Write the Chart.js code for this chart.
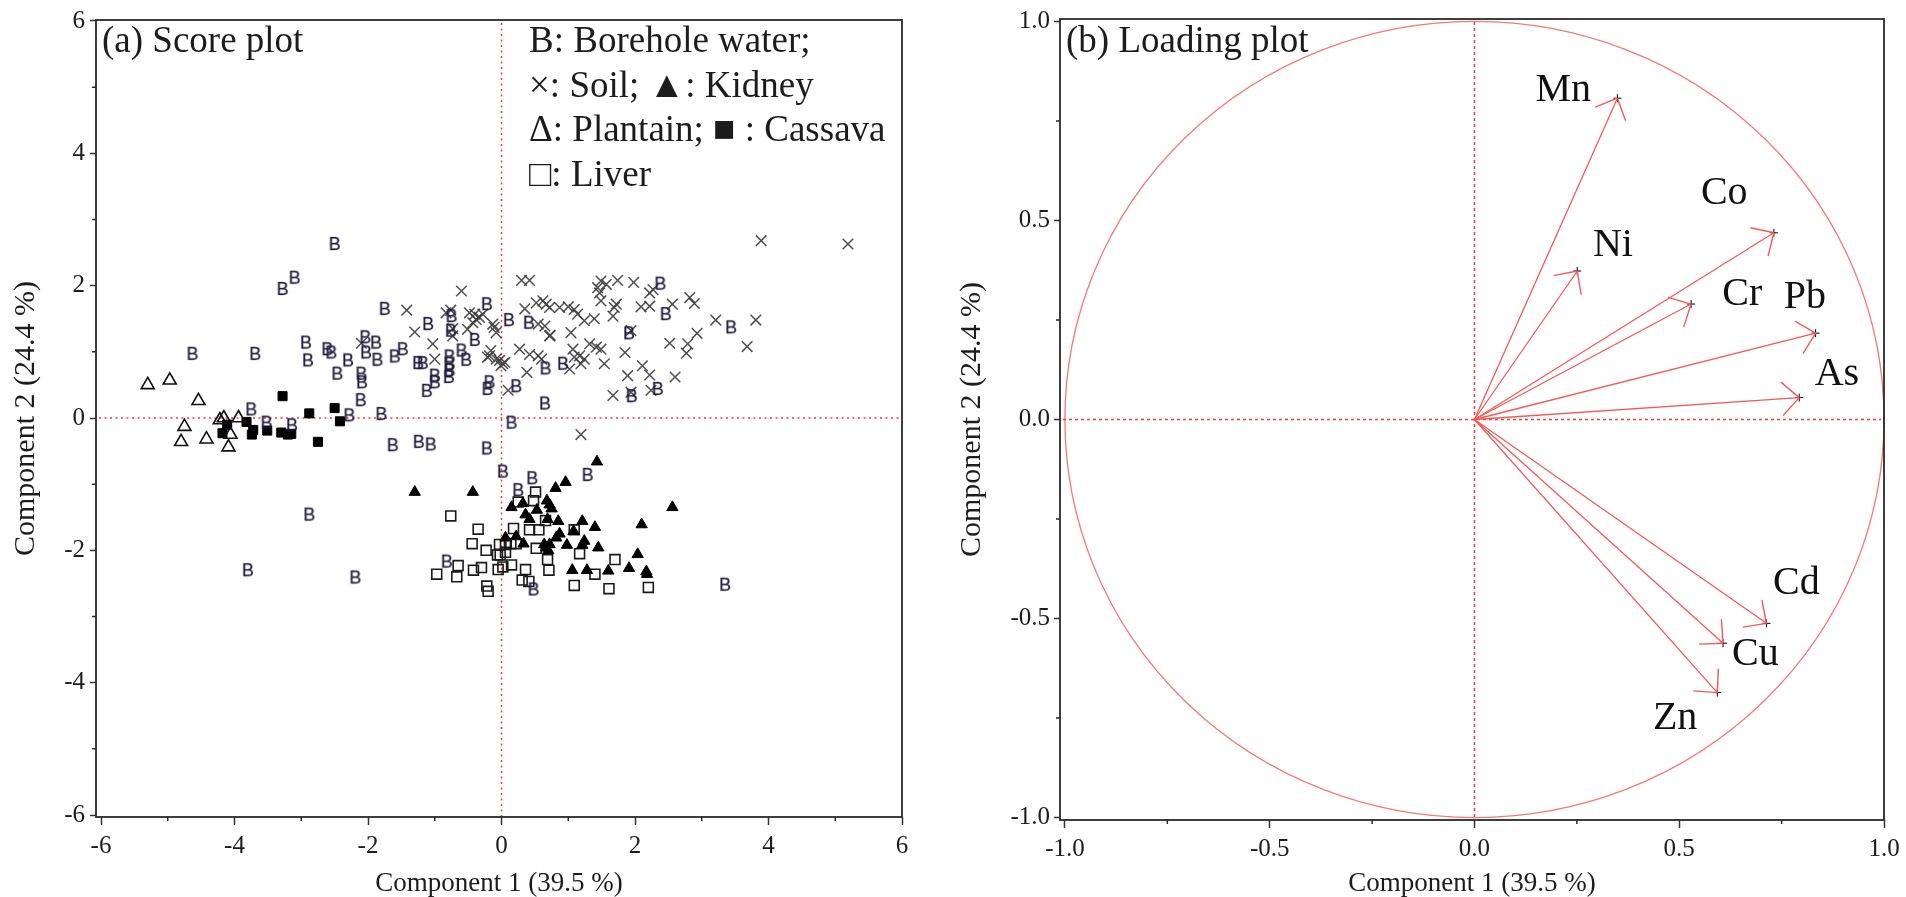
<!DOCTYPE html>
<html>
<head>
<meta charset="utf-8">
<script src="https://cdn.jsdelivr.net/npm/chart.js@4.4.0/dist/chart.umd.min.js"></script>
<style>
  html, body { margin: 0; padding: 0; background: #fff; }
  #wrap { position: relative; width: 1906px; height: 897px; overflow: hidden; }
  #score { position: absolute; left: 0; top: 0; }
  #loading { position: absolute; left: 940px; top: 0; }
</style>
</head>
<body>
<div id="wrap">
  <canvas id="score" width="940" height="897"></canvas>
  <canvas id="loading" width="966" height="897"></canvas>
</div>
<script>
// ---- score plot: [component 1, component 2] per sample ----
var borehole = [[-2.50,2.63],[-3.10,2.12],[-3.28,1.95],[-1.75,1.65],[-4.63,0.97],[-3.69,0.97],[-2.93,1.14],[-2.90,0.87],
  [-2.61,1.04],[-2.55,0.99],[-2.30,0.87],[-2.46,0.67],[-2.04,1.22],[-2.03,0.99],[-1.88,1.14],[-1.86,0.88],[-2.10,0.67],
  [-2.09,0.54],[-2.11,0.27],[-1.60,0.93],[-1.48,1.04],[-1.25,0.83],[-1.18,0.83],[-1.10,1.42],[-0.75,1.54],[-0.76,1.32],
  [-0.40,1.18],[-0.60,1.02],[-0.53,0.88],[-0.78,0.93],[-0.78,0.82],[-0.78,0.72],[-0.79,0.62],[-1.00,0.64],[-1.00,0.54],
  [-1.12,0.41],[-0.22,1.72],[-0.18,0.54],[-0.21,0.44],[-3.75,0.13],[-3.52,-0.07],[-3.14,-0.11],[-2.28,0.04],[-1.80,0.06],
  [-1.63,-0.41],[-1.24,-0.36],[-1.06,-0.40],[-0.22,-0.46],[0.11,1.48],[0.41,1.44],[0.22,0.48],[0.66,0.75],[0.65,0.22],
  [0.15,-0.07],[0.92,0.82],[2.38,2.03],[2.46,1.57],[1.91,1.28],[3.44,1.37],[1.95,0.33],[2.34,0.44],[0.02,-0.81],
  [0.46,-0.91],[0.25,-1.09],[1.29,-0.86],[-0.82,-2.17],[0.48,-2.59],[-2.88,-1.46],[-3.80,-2.30],[-2.19,-2.41],[3.35,-2.52]];
var soil = [[3.89,2.68],[5.19,2.63],[-0.60,1.92],[0.30,2.08],[0.42,2.08],[1.49,2.07],[1.57,2.02],[1.74,2.08],[1.98,2.05],
  [2.22,1.89],[2.27,1.94],[1.44,1.97],[1.47,1.89],[1.49,1.77],[1.72,1.72],[2.82,1.82],[2.89,1.73],[2.56,1.72],[2.09,1.68],
  [2.22,1.69],[0.52,1.74],[0.62,1.77],[0.67,1.72],[0.72,1.67],[0.35,1.65],[0.87,1.67],[1.00,1.68],[1.09,1.64],[1.14,1.57],
  [1.24,1.47],[1.39,1.50],[1.67,1.54],[1.69,1.67],[3.21,1.48],[3.81,1.48],[2.93,1.28],[3.68,1.08],[2.52,1.13],[2.79,1.12],
  [2.77,0.98],[1.85,0.99],[1.94,1.32],[1.54,0.82],[1.89,0.64],[2.11,0.79],[2.22,0.65],[2.60,0.62],[1.67,0.34],[1.94,0.39],
  [2.24,0.42],[1.04,1.29],[0.73,1.25],[1.32,1.12],[1.42,1.07],[1.49,1.04],[1.07,1.04],[1.17,0.94],[1.09,0.92],[1.19,0.82],
  [1.02,0.74],[1.24,0.89],[0.27,1.04],[0.42,0.96],[0.55,0.94],[0.60,0.89],[0.38,0.69],[0.10,0.42],[0.55,1.42],[0.65,1.39],
  [0.72,1.24],[1.19,-0.25],[-0.13,1.42],[-0.08,1.29],[-0.16,1.02],[-0.18,0.94],[-0.03,0.87],[0.02,0.82],[0.05,0.84],
  [-0.48,1.59],[-0.40,1.57],[-0.33,1.52],[-0.28,1.57],[-0.51,1.34],[-0.73,1.24],[-1.42,1.63],[-1.30,1.30],[-0.83,1.59],
  [-0.76,1.63],[-1.03,1.12],[-1.00,0.89],[-2.10,1.13],[-0.73,1.35],[-0.43,1.44],[-0.38,1.49],[-0.11,1.37],[-0.21,0.92],
  [-0.08,0.89],[-0.01,0.79]];
var kidney = [[-1.30,-1.12],[-0.43,-1.12],[0.15,-1.35],[0.32,-1.29],[0.53,-1.39],[0.68,-1.25],[0.72,-1.31],[0.75,-1.37],
  [0.69,-1.53],[0.36,-1.46],[0.42,-1.53],[0.81,-1.06],[0.96,-0.97],[1.43,-0.66],[0.85,-1.56],[1.21,-1.56],[1.40,-1.65],
  [2.10,-1.61],[2.56,-1.35],[0.06,-1.81],[0.22,-1.79],[0.33,-1.90],[0.82,-1.81],[0.87,-1.75],[1.08,-1.71],[0.98,-1.92],
  [1.24,-1.86],[1.21,-1.92],[1.45,-1.96],[0.67,-1.96],[0.72,-1.91],[0.64,-1.91],[0.70,-2.00],[2.04,-2.06],[1.06,-2.30],
  [1.28,-2.30],[1.60,-2.31],[1.91,-2.27],[2.17,-2.32],[2.18,-2.36]];
var plantain = [[-5.30,0.50],[-4.97,0.57],[-4.54,0.26],[-4.75,-0.13],[-4.80,-0.36],[-4.42,-0.32],[-4.22,-0.03],
  [-4.16,0.00],[-4.06,-0.25],[-4.09,-0.44],[-3.94,0.00]];
var cassava = [[-3.28,0.33],[-4.11,-0.10],[-4.18,-0.23],[-3.82,-0.06],[-3.72,-0.18],[-3.74,-0.25],[-3.51,-0.19],
  [-3.30,-0.22],[-3.20,-0.25],[-3.15,-0.24],[-2.88,0.07],[-2.75,-0.36],[-2.50,0.15],[-2.42,-0.05]];
var liver = [[-0.76,-1.48],[-0.35,-1.68],[-0.44,-1.90],[-0.23,-2.00],[-0.06,-2.07],[-0.65,-2.23],[-0.97,-2.36],[-0.67,-2.40],
  [-0.42,-2.30],[-0.30,-2.26],[-0.22,-2.54],[-0.20,-2.62],[-0.05,-2.29],[-0.02,-2.07],[0.06,-2.03],[0.02,-2.25],[0.15,-2.22],
  [0.18,-1.67],[0.06,-1.91],[0.14,-1.90],[0.22,-1.90],[0.25,-1.27],[0.51,-1.12],[0.48,-1.25],[0.42,-1.69],[0.56,-1.69],
  [0.52,-1.97],[0.69,-2.14],[0.71,-2.30],[0.36,-2.29],[0.31,-2.45],[0.41,-2.47],[0.66,-1.55],[1.09,-1.69],[1.17,-2.05],
  [1.40,-2.36],[1.09,-2.53],[1.61,-2.58],[1.70,-2.14],[2.20,-2.56],[-0.03,-1.91]];

var scoreMajorTicks = [-6, -4, -2, 0, 2, 4, 6];
var scoreMinorTicks = [-5, -3, -1, 1, 3, 5];
var legendLines = ['B: Borehole water;', '\u00d7: Soil; \u25b2: Kidney', '\u0394: Plantain; \u25a0 : Cassava', '\u25a1: Liver'];

// ---- loading plot ----
var elements = ['Mn', 'Co', 'Ni', 'Cr', 'Pb', 'As', 'Cd', 'Cu', 'Zn'];
var load1 = [0.349, 0.731, 0.251, 0.529, 0.833, 0.793, 0.713, 0.607, 0.593];
var load2 = [0.807, 0.469, 0.373, 0.290, 0.217, 0.055, -0.512, -0.562, -0.686];
var labelAt1 = [0.217, 0.610, 0.338, 0.654, 0.807, 0.885, 0.786, 0.686, 0.490];
var labelAt2 = [0.827, 0.567, 0.437, 0.315, 0.307, 0.112, -0.413, -0.591, -0.751];
var loadMajorTicks = [-1, -0.5, 0, 0.5, 1];
var loadMinorTicks = [-0.75, -0.25, 0.25, 0.75];
var loadTickLabels = ['-1.0', '-0.5', '0.0', '0.5', '1.0'];

var serif = 'Liberation Serif';
var ink = '#1c1c1c';

function pts(arr) { return arr.map(function (p) { return { x: p[0], y: p[1] }; }); }

// "B" glyph used as the borehole marker
var bMark = document.createElement('canvas');
bMark.width = 16; bMark.height = 18;
var bctx = bMark.getContext('2d');
bctx.fillStyle = '#201a3c';
bctx.strokeStyle = 'rgba(32,26,60,0.5)';
bctx.lineWidth = 0.4;
bctx.font = '18px "Liberation Sans"';
bctx.textAlign = 'center';
bctx.textBaseline = 'middle';
bctx.fillText('B', 8, 10);
bctx.strokeText('B', 8, 10);

function axis(min, max, majors, labels, fixed, horizontal, titleText, titlePad, tickLen, tickPad) {
  return {
    type: 'linear', min: min, max: max,
    afterBuildTicks: function (s) { s.ticks = majors.map(function (v) { return { value: v }; }); },
    afterFit: function (s) { if (horizontal) s.height = fixed; else s.width = fixed; },
    ticks: {
      autoSkip: false, maxRotation: 0, padding: tickPad, color: ink,
      font: { family: serif, size: 25 },
      callback: function (v) { return labels ? labels[majors.indexOf(v)] : String(v); }
    },
    grid: { display: true, drawOnChartArea: false, drawTicks: true, tickLength: tickLen, tickColor: '#333', tickWidth: 1.5 },
    border: { display: false },
    title: {
      display: true, text: titleText, color: ink,
      font: { family: serif, size: horizontal ? 27 : 30, lineHeight: 1 },
      padding: horizontal ? { top: 0, bottom: 0 } : { top: titlePad, bottom: 0 }
    }
  };
}

function decor(opts) {
  return {
    id: 'decor',
    beforeDatasetsDraw: function (chart) {
      var ctx = chart.ctx, a = chart.chartArea, xs = chart.scales.x, ys = chart.scales.y;
      var x0 = xs.getPixelForValue(0), y0 = ys.getPixelForValue(0);
      ctx.save();
      if (opts.circle) {
        ctx.strokeStyle = '#f07a7a'; ctx.lineWidth = 1.3;
        ctx.beginPath();
        ctx.ellipse(x0, y0, xs.getPixelForValue(1) - x0, y0 - ys.getPixelForValue(1), 0, 0, Math.PI * 2);
        ctx.stroke();
      }
      ctx.strokeStyle = '#f03c3c'; ctx.lineWidth = 1.5; ctx.setLineDash(opts.dash);
      ctx.beginPath();
      ctx.moveTo(x0, a.top + 3); ctx.lineTo(x0, a.bottom);
      ctx.moveTo(a.left + 3, y0); ctx.lineTo(a.right - 3, y0);
      ctx.stroke();
      ctx.restore();
    },
    afterDraw: function (chart) {
      var ctx = chart.ctx, a = chart.chartArea, xs = chart.scales.x, ys = chart.scales.y;
      ctx.save();
      ctx.strokeStyle = '#2a2a2a'; ctx.lineWidth = 1.8;
      ctx.strokeRect(a.left, a.top, a.right - a.left, a.bottom - a.top);
      ctx.lineWidth = 1.5;
      ctx.beginPath();
      opts.minors.forEach(function (v) {
        var px = xs.getPixelForValue(v), py = ys.getPixelForValue(v);
        ctx.moveTo(px, a.bottom); ctx.lineTo(px, a.bottom + 4);
        ctx.moveTo(a.left - 4, py); ctx.lineTo(a.left, py);
      });
      ctx.stroke();
      ctx.fillStyle = ink;
      ctx.textBaseline = 'alphabetic'; ctx.textAlign = 'left';
      ctx.font = '37px "' + serif + '"';
      ctx.fillText(opts.panel, a.left + 6, 52);
      if (opts.legend) {
        opts.legend.forEach(function (t, i) { ctx.fillText(t, 529 - chart.canvas.offsetLeft, 52 + i * 44.7); });
      }
      ctx.restore();
    }
  };
}

new Chart(document.getElementById('score'), {
  type: 'scatter',
  data: {
    datasets: [
      { label: 'Borehole water', data: pts(borehole), pointStyle: bMark, pointRadius: 8 },
      { label: 'Soil', data: pts(soil), pointStyle: 'crossRot', pointRadius: 7.5, borderColor: 'rgba(60,60,60,0.9)', borderWidth: 1.5 },
      { label: 'Kidney', data: pts(kidney), pointStyle: 'triangle', pointRadius: 6.5, backgroundColor: '#000', borderColor: '#000', borderWidth: 1 },
      { label: 'Plantain', data: pts(plantain), pointStyle: 'triangle', pointRadius: 7.5, backgroundColor: 'rgba(0,0,0,0)', borderColor: '#111', borderWidth: 1.6 },
      { label: 'Cassava', data: pts(cassava), pointStyle: 'rect', pointRadius: 6.4, backgroundColor: '#000', borderColor: '#000', borderWidth: 1 },
      { label: 'Liver', data: pts(liver), pointStyle: 'rect', pointRadius: 7, backgroundColor: 'rgba(0,0,0,0)', borderColor: '#1a1a1a', borderWidth: 1.6 }
    ]
  },
  options: {
    responsive: false, animation: false, events: [], devicePixelRatio: 1,
    layout: { padding: { top: 15, right: 38, left: 0, bottom: 0 } },
    plugins: { legend: { display: false }, tooltip: { enabled: false } },
    scales: {
      x: axis(-6.075, 6, scoreMajorTicks, null, 80, true, 'Component 1 (39.5 %)', 0, 8, 6),
      y: axis(-6.03, 6.015, scoreMajorTicks, null, 96, false, 'Component 2 (24.4 %)', 11, 6, 5)
    }
  },
  plugins: [decor({ circle: false, dash: [2, 3.5], minors: scoreMinorTicks, panel: '(a) Score plot', legend: legendLines })]
});

var shafts = elements.map(function (el, i) {
  return {
    label: el, data: [{ x: 0, y: 0 }, { x: load1[i], y: load2[i] }],
    showLine: true, pointRadius: 0, borderColor: '#f05a5a', borderWidth: 1.3, fill: false
  };
});
shafts.push({
  label: 'tips', data: elements.map(function (el, i) { return { x: load1[i], y: load2[i] }; }),
  pointStyle: 'cross', pointRadius: 4, borderColor: '#000', borderWidth: 1
});

var arrowHeads = {
  id: 'arrowHeads',
  afterDatasetsDraw: function (chart) {
    var ctx = chart.ctx, xs = chart.scales.x, ys = chart.scales.y;
    var cx = xs.getPixelForValue(0), cy = ys.getPixelForValue(0);
    ctx.save();
    ctx.strokeStyle = '#f05a5a'; ctx.lineWidth = 1.4;
    ctx.beginPath();
    elements.forEach(function (el, i) {
      var tx = xs.getPixelForValue(load1[i]), ty = ys.getPixelForValue(load2[i]);
      var back = Math.atan2(cy - ty, cx - tx);
      [-1, 1].forEach(function (s) {
        var ang = back + s * 0.77;
        ctx.moveTo(tx, ty); ctx.lineTo(tx + 24 * Math.cos(ang), ty + 24 * Math.sin(ang));
      });
    });
    ctx.stroke();
    ctx.fillStyle = '#111';
    ctx.font = '40px "' + serif + '"';
    ctx.textAlign = 'center'; ctx.textBaseline = 'middle';
    elements.forEach(function (el, i) {
      ctx.fillText(el, xs.getPixelForValue(labelAt1[i]), ys.getPixelForValue(labelAt2[i]));
    });
    ctx.restore();
  }
};

new Chart(document.getElementById('loading'), {
  type: 'scatter',
  data: { datasets: shafts },
  options: {
    responsive: false, animation: false, events: [], devicePixelRatio: 1,
    layout: { padding: { top: 15, right: 22, left: 0, bottom: 0 } },
    plugins: { legend: { display: false }, tooltip: { enabled: false } },
    scales: {
      x: axis(-1.012, 1.0, loadMajorTicks, loadTickLabels, 77, true, 'Component 1 (39.5 %)', 0, 8, 6),
      y: axis(-1.006, 1.006, loadMajorTicks, loadTickLabels, 120, false, 'Component 2 (24.4 %)', 17, 6, 4)
    }
  },
  plugins: [decor({ circle: true, dash: [3, 3], minors: loadMinorTicks, panel: '(b) Loading plot', legend: null }), arrowHeads]
});
</script>
</body>
</html>
